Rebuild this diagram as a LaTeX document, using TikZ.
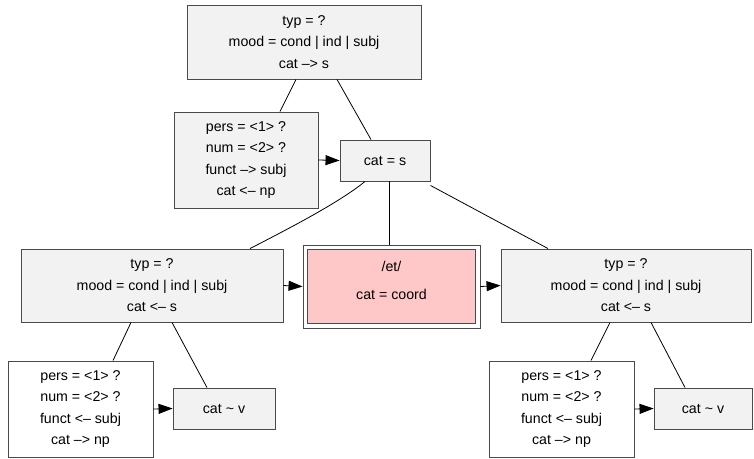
\documentclass[tikz,border=0pt]{standalone}
\usepackage{fontspec}
\setmainfont{Liberation Sans}
\usetikzlibrary{arrows.meta}
\definecolor{boxfill}{HTML}{F2F2F2}
\definecolor{boxline}{HTML}{4A4A4A}
\definecolor{pinkfill}{HTML}{FFC8C8}
\tikzset{
  fbox/.style={draw=boxline, line width=0.9pt, fill=boxfill, inner sep=0pt, align=center,
    font=\fontsize{14.2}{21.5}\selectfont},
  wbox/.style={fbox, fill=white},
  edge/.style={draw=black, line width=0.8pt},
  arr/.style={edge, -{Triangle[length=14pt,width=10pt]}},
}
\begin{document}
\begin{tikzpicture}[x=1pt,y=-1pt]
\useasboundingbox (0,0) rectangle (754,458);
\node[fbox, minimum width=234pt, minimum height=74pt] (top) at (304,42)
  {typ = ?\\mood = cond | ind | subj\\cat \textendash> s};
\node[fbox, minimum width=144pt, minimum height=96pt] (pers) at (246,160)
  {pers = <1> ?\\num = <2> ?\\funct \textendash> subj\\cat <\textendash{} np};
\node[fbox, minimum width=90pt, minimum height=41pt] (cats) at (385,160.5) {cat = s};
\node[draw=boxline, line width=0.9pt, fill=white, minimum width=177pt, minimum height=83pt, inner sep=0pt] (coord) at (391.5,286.5) {};
\node[draw=boxline, line width=0.9pt, fill=pinkfill, minimum width=168pt, minimum height=74pt, inner sep=0pt] (coordin) at (391.5,286.5) {};
\node[align=center, inner sep=0pt, font=\fontsize{14.2}{21.5}\selectfont] (coordtext) at (391.5,280) {/et/\\[6.5pt]cat = coord};
\node[fbox, minimum width=262pt, minimum height=73pt] (left) at (152,285.5)
  {typ = ?\\mood = cond | ind | subj\\cat <\textendash{} s};
\node[fbox, minimum width=250pt, minimum height=73pt] (right) at (626,285.5)
  {typ = ?\\mood = cond | ind | subj\\cat <\textendash{} s};
\node[wbox, minimum width=145pt, minimum height=96pt] (lpers) at (80.5,409)
  {pers = <1> ?\\num = <2> ?\\funct <\textendash{} subj\\cat \textendash> np};
\node[fbox, minimum width=102pt, minimum height=41pt] (lv) at (224,408.5) {cat \textasciitilde{} v};
\node[wbox, minimum width=145pt, minimum height=96pt] (rpers) at (561.5,409)
  {pers = <1> ?\\num = <2> ?\\funct <\textendash{} subj\\cat \textendash> np};
\node[fbox, minimum width=98pt, minimum height=41pt] (rv) at (703,408.5) {cat \textasciitilde{} v};

\draw[edge] ([xshift=-8pt]top.south) -- ([xshift=34pt]pers.north);
\draw[edge] ([xshift=33pt]top.south) -- ([xshift=-14pt]cats.north);
\draw[arr] (pers.east) -- (cats.west);
\draw[edge] ([xshift=-20pt]cats.south) .. controls (340,202) and (290,228) .. ([xshift=98pt]left.north);
\draw[edge] ([xshift=4pt]cats.south) -- ([xshift=-2.5pt]coord.north);
\draw[edge] ([yshift=-4pt]cats.south east) -- ([xshift=-78pt]right.north);
\draw[arr] (left.east) -- (coord.west);
\draw[arr] (coord.east) -- (right.west);
\draw[edge] ([xshift=-21pt]left.south) -- ([xshift=32.5pt]lpers.north);
\draw[edge] ([xshift=20pt]left.south) -- ([xshift=-17pt]lv.north);
\draw[arr] (lpers.east) -- (lv.west);
\draw[edge] ([xshift=-16pt]right.south) -- ([xshift=29.5pt]rpers.north);
\draw[edge] ([xshift=25pt]right.south) -- ([xshift=-18pt]rv.north);
\draw[arr] (rpers.east) -- (rv.west);
\end{tikzpicture}
\end{document}
